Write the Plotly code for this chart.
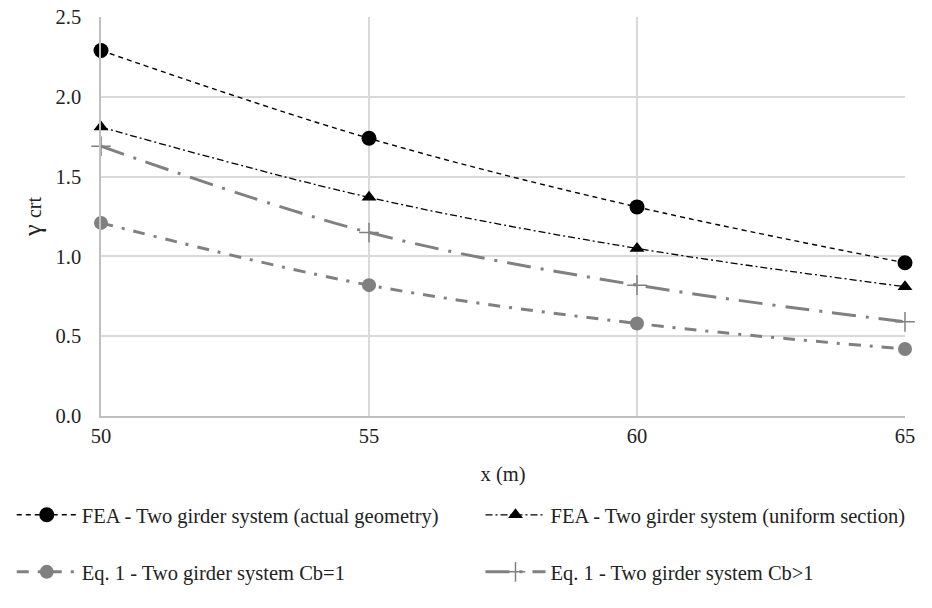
import plotly.graph_objects as go

x_vals = [50, 55, 60, 65]
fea_actual = [2.29, 1.74, 1.31, 0.96]
fea_uniform = [1.81, 1.37, 1.05, 0.81]
eq1_cb1 = [1.21, 0.82, 0.58, 0.42]
eq1_cbgt1 = [1.69, 1.15, 0.82, 0.59]

names = [
    "FEA - Two girder system (actual geometry)",
    "FEA - Two girder system (uniform section)",
    "Eq. 1 - Two girder system Cb=1",
    "Eq. 1 - Two girder system Cb>1",
]

FONT = "Liberation Serif, Times New Roman, Times, serif"
GRAY = "#808080"
FS = 20.5

fig = go.Figure()
fig.add_trace(go.Scatter(
    x=x_vals, y=fea_actual, name=names[0], mode="lines+markers", cliponaxis=False,
    line=dict(color="black", width=1.4, dash="5px,4px", shape="spline"),
    marker=dict(symbol="circle", size=15, color="black"),
    legend="legend"))
fig.add_trace(go.Scatter(
    x=x_vals, y=fea_uniform, name=names[1], mode="lines+markers", cliponaxis=False,
    line=dict(color="black", width=1.3, dash="7px,3px,2px,3px", shape="spline"),
    marker=dict(symbol="triangle-up", size=13, color="black"),
    legend="legend2"))
fig.add_trace(go.Scatter(
    x=x_vals, y=eq1_cb1, name=names[2], mode="lines+markers", cliponaxis=False,
    line=dict(color=GRAY, width=3, dash="12px,9px,3px,9px", shape="spline"),
    marker=dict(symbol="circle", size=14, color=GRAY),
    legend="legend3"))
fig.add_trace(go.Scatter(
    x=x_vals, y=eq1_cbgt1, name=names[3], mode="lines+markers", cliponaxis=False,
    line=dict(color=GRAY, width=3, dash="24px,10px,3px,10px", shape="spline"),
    marker=dict(symbol="cross-thin", size=14, color=GRAY, line=dict(color=GRAY, width=1.5)),
    legend="legend4"))

legend_common = dict(
    orientation="h", xanchor="left", yanchor="middle",
    font=dict(family=FONT, size=FS, color="#222222"),
    itemwidth=60,
    bgcolor="rgba(0,0,0,0)",
)

y_row1 = -0.248
y_row2 = -0.391
x_col1 = -0.111
x_col2 = 0.472

fig.update_layout(
    width=932, height=608,
    margin=dict(l=98, r=27, t=17, b=192),
    paper_bgcolor="white", plot_bgcolor="white",
    font=dict(family=FONT, size=FS, color="#222222"),
    showlegend=True,
    legend=dict(x=x_col1, y=y_row1, **legend_common),
    legend2=dict(x=x_col2, y=y_row1, **legend_common),
    legend3=dict(x=x_col1, y=y_row2, **legend_common),
    legend4=dict(x=x_col2, y=y_row2, **legend_common),
    xaxis=dict(
        range=[50, 65], tickvals=x_vals, ticktext=[str(v) for v in x_vals],
        showgrid=True, gridcolor="#d9d9d9", gridwidth=1.5,
        showline=True, linecolor="#bfbfbf", linewidth=1.5,
        zeroline=False, ticks="", ticklabelstandoff=1, automargin=False,
        title=dict(text="x (m)", font=dict(family=FONT, size=FS), standoff=20),
        tickfont=dict(family=FONT, size=FS),
    ),
    yaxis=dict(
        range=[0, 2.5], tickvals=[0, 0.5, 1.0, 1.5, 2.0, 2.5],
        tickformat=".1f",
        showgrid=True, gridcolor="#d9d9d9", gridwidth=1.5,
        showline=True, linecolor="#bfbfbf", linewidth=1.5,
        zeroline=False, ticks="", ticklabelstandoff=14, automargin=False,
        title=dict(text="γ <span style='font-size:20px'>crt</span>",
                   font=dict(family=FONT, size=26), standoff=6),
        tickfont=dict(family=FONT, size=FS),
    ),
)

fig.write_html("out.html")
